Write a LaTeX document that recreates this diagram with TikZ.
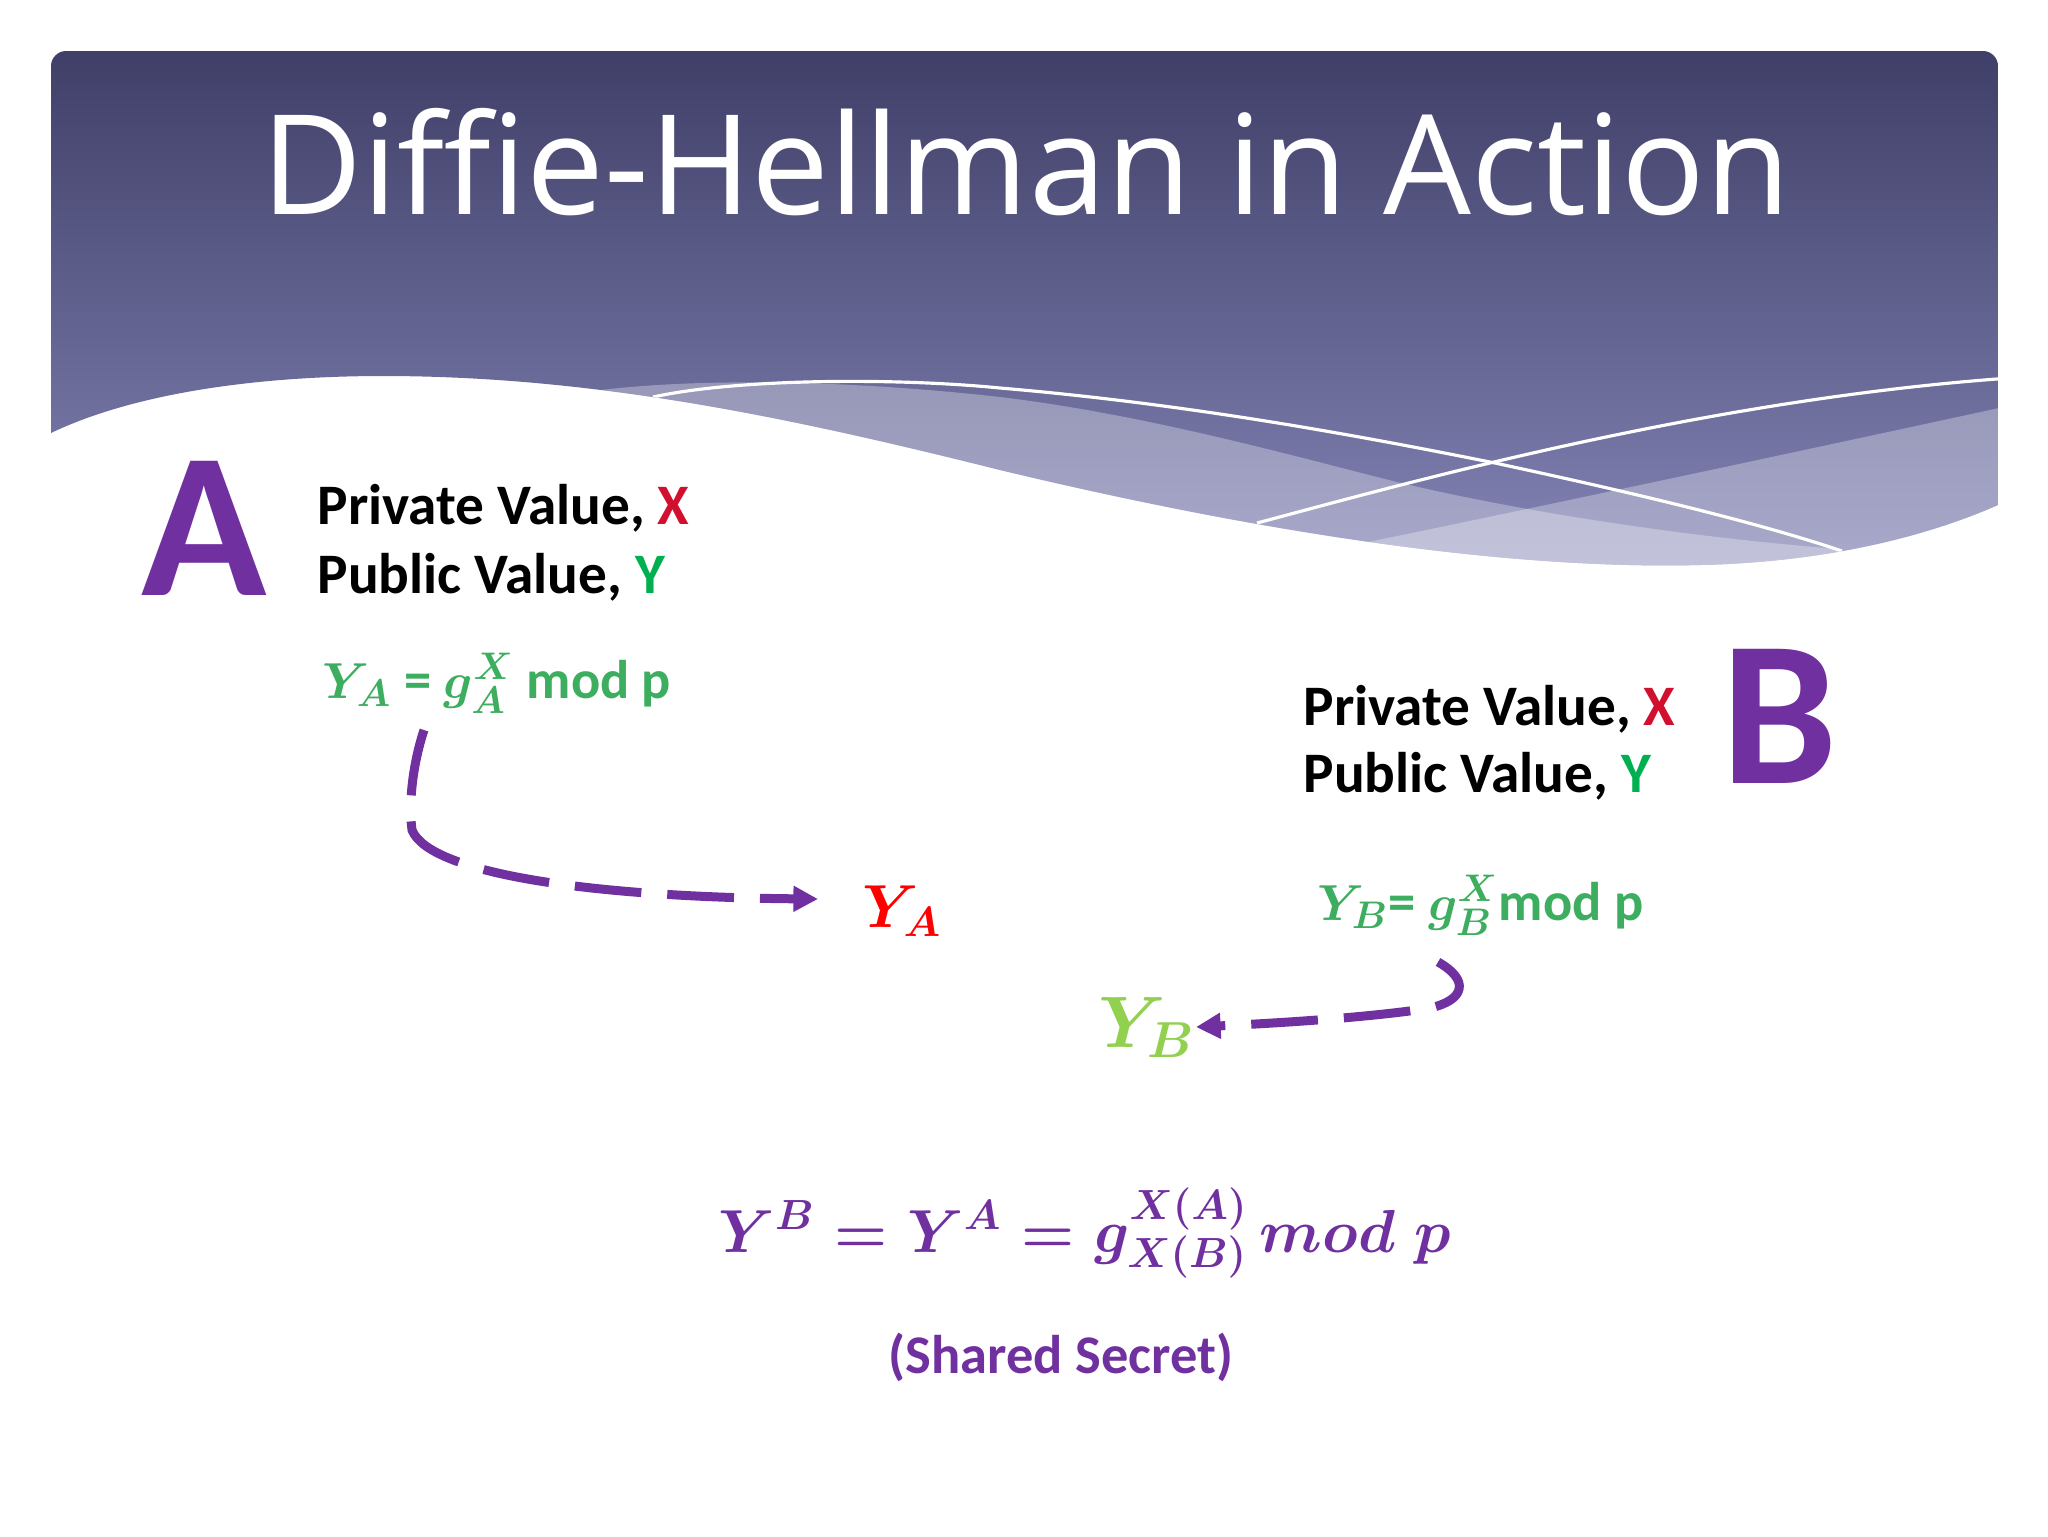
\documentclass[tikz,border=0pt]{standalone}
\usepackage{fontspec}
\setmainfont{Carlito}
\newfontfamily\titlefont{Open Sans}
\usetikzlibrary{arrows.meta}
\definecolor{dhpurple}{HTML}{7030A0}
\definecolor{dhred}{HTML}{D0102E}
\definecolor{dhgreen}{HTML}{00B050}
\definecolor{fgreen}{HTML}{3DAE5F}
\definecolor{yared}{HTML}{FF0000}
\definecolor{ybgreen}{HTML}{92D050}
\definecolor{hdrtop}{HTML}{3F3F68}
\definecolor{hdrbot}{HTML}{8484B6}
\tikzset{
  lbl/.style={inner sep=0pt, anchor=base west, font=\fontsize{16.3}{19}\selectfont\bfseries},
  party/.style={inner sep=0pt, anchor=base west, text=dhpurple, font=\fontsize{58.9}{60}\selectfont\bfseries},
  formula/.style={inner sep=0pt, anchor=base west, text=fgreen, font=\fontsize{15.5}{18}\selectfont\bfseries\boldmath},
  bigsym/.style={inner sep=0pt, anchor=base west, font=\fontsize{19}{21}\selectfont\boldmath},
  sent/.style={dhpurple, line width=2.56pt, dash pattern=on 19pt off 7.4pt, -{Triangle[length=7pt,width=7pt]}},
  wave/.style={white, line width=0.9pt},
  band/.style={white, opacity=0.3},
}
\begin{document}
\begin{tikzpicture}[x=0.1mm,y=-0.1mm]
\useasboundingbox (0,0) rectangle (2048,1536);
\fill[white] (0,0) rectangle (2048,1536);
% header
\begin{scope}
  \clip[rounded corners=4.3pt] (51,51) rectangle (1998,640);
  \clip (0,433) -- (51,433) .. controls (130,395) and (250,376) .. (383,376)
        .. controls (600,376) and (800,420) .. (1000,470)
        .. controls (1250,530) and (1500,570) .. (1700,565)
        .. controls (1830,562) and (1930,535) .. (1998,505)
        -- (2048,505) -- (2048,0) -- (0,0) -- cycle;
  \shade[top color=hdrtop, bottom color=hdrbot] (51,51) rectangle (1998,570);
  \fill[band] (601,390) .. controls (700,378) and (850,380) .. (1000,397)
        .. controls (1150,415) and (1300,458) .. (1401,483)
        .. controls (1550,518) and (1720,540) .. (1840,549)
        -- (1840,700) -- (601,700) -- cycle;
  \fill[band] (1368,542) .. controls (1500,515) and (1750,462) .. (1999,408)
        -- (2048,408) -- (2048,700) -- (1368,700) -- cycle;
  \draw[wave] (653,397) .. controls (740,378) and (900,378) .. (1000,388)
        .. controls (1200,405) and (1380,440) .. (1495,463)
        .. controls (1620,490) and (1750,520) .. (1842,551);
  \draw[wave] (1257,523) .. controls (1400,485) and (1700,400) .. (2010,378);
\end{scope}
\node[font=\titlefont\fontsize{39.5}{45}\selectfont, text=white, anchor=base, inner sep=0pt] (title) at (1026,214) {Diffie-Hellman in Action};

% party A
\node[party] (A) at (141,595) {A};
\node[lbl] (privA) at (317,524) {Private Value, \textcolor{dhred}{X}};
\node[lbl] (pubA) at (317,593) {Public Value, \textcolor{dhgreen}{Y}};
\node[formula] (fA) at (322,698) {$Y_A$ = $g^X_A$ mod p};
\node[bigsym, text=yared, font=\fontsize{18.8}{20}\selectfont\boldmath] (YA) at (862,927) {$Y_A$};

% party B
\node[lbl] (privB) at (1303,725) {Private Value, \textcolor{dhred}{X}};
\node[lbl] (pubB) at (1303,792) {Public Value, \textcolor{dhgreen}{Y}};
\node[party] (B) at (1721,783) {B};
\node[formula] (fB) at (1317,920) {$Y_B$= $g^X_B$mod p};
\node[bigsym, text=ybgreen, font=\fontsize{19.6}{21}\selectfont\boldmath] (YB) at (1098,1047) {$Y_B$};

% shared secret
\node[inner sep=0pt, anchor=base west, text=dhpurple, font=\fontsize{17.2}{20}\selectfont\boldmath] (shared) at (718,1252) {$Y^B = Y^A = g^{X(A)}_{X(B)}\,mod\;p$};
\node[inner sep=0pt, anchor=base, text=dhpurple, font=\fontsize{15.5}{18}\selectfont\bfseries] (secret) at (1061,1373) {(Shared Secret)};

% connectors
\coordinate (aS) at (424,730);
\coordinate (aE) at (818,899);
\coordinate (bS) at (1438,962);
\coordinate (bE) at (1196,1027);
\draw[sent] (aS) .. controls (414,760) and (408,800) .. (412,830)
      .. controls (430,875) and (600,897) .. (aE);
\draw[sent] (bS) .. controls (1470,980) and (1465,1000) .. (1430,1008)
      .. controls (1380,1016) and (1300,1022) .. (bE);
\end{tikzpicture}
\end{document}
